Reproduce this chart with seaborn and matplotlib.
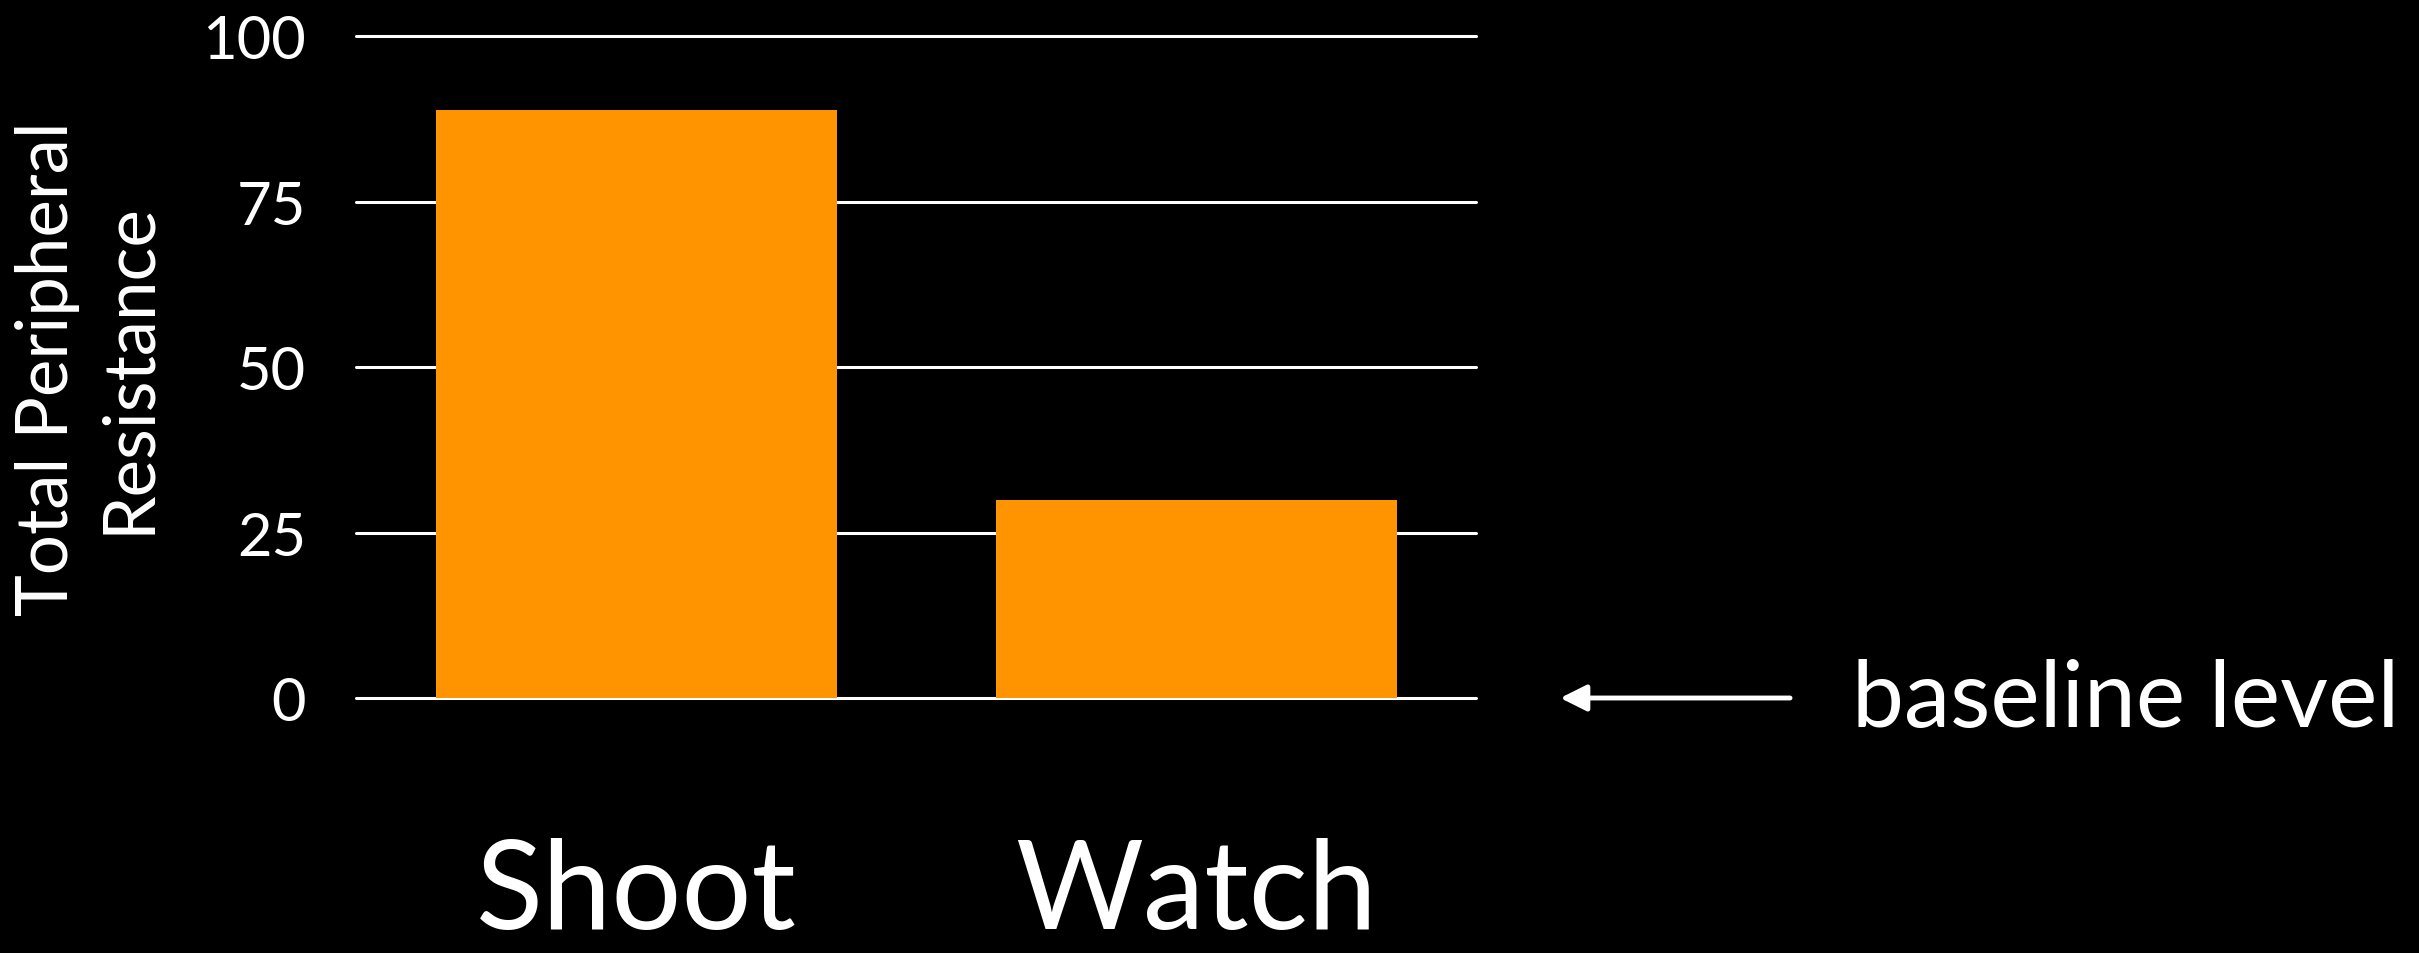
import matplotlib
matplotlib.use("Agg")
import matplotlib.pyplot as plt
import seaborn as sns

# ==========================
# Data
# ==========================
conditions = ["Shoot", "Watch"]
resistance = [88.9, 30.0]
y_ticks = [0, 25, 50, 75, 100]

bar_color = "#FF9400"

# ==========================
# Style
# ==========================
sns.set_theme(style="dark")
plt.rcParams.update({
    "figure.facecolor": "black",
    "axes.facecolor": "black",
    "savefig.facecolor": "black",
    "text.color": "white",
    "axes.labelcolor": "white",
    "xtick.color": "white",
    "ytick.color": "white",
})
plt.rcParams["font.family"] = ["Lato", "DejaVu Sans"]

fig = plt.figure(figsize=(24.19, 9.54), dpi=100)
ax = fig.add_axes([0.1472, 0.2673, 0.4630, 0.6934])

sns.barplot(x=conditions, y=resistance, color=bar_color, saturation=1,
            width=0.716, linewidth=0, edgecolor=bar_color, ax=ax)

ax.set_xlim(-0.5, 1.5)
ax.set_ylim(0, 100)
ax.set_yticks(y_ticks)
ax.set_yticklabels([str(t) for t in y_ticks], fontsize=43, fontweight="normal")
ax.tick_params(axis="y", length=0, pad=36)
ax.tick_params(axis="x", length=0, pad=100, labelsize=89)

ax.yaxis.grid(True, color="white", linewidth=2.2)
ax.xaxis.grid(False)
ax.set_axisbelow(True)
for line in ax.get_ygridlines():
    line.set_clip_on(False)
for s in ax.spines.values():
    s.set_visible(False)

ax.set_xlabel("")
ax.set_ylabel("Total Peripheral\nResistance", fontsize=51, labelpad=30,
              linespacing=1.3)

# baseline annotation
ax.annotate("", xy=(0.645, 0), xycoords=("figure fraction", "data"),
            xytext=(0.740, 0), textcoords=("figure fraction", "data"),
            arrowprops=dict(arrowstyle="-|>", color="white", lw=3.5,
                            mutation_scale=40, shrinkA=0, shrinkB=0),
            annotation_clip=False)
ax.text(0.7656, -4.2, "baseline level", fontsize=67,
        transform=matplotlib.transforms.blended_transform_factory(fig.transFigure, ax.transData),
        ha="left", va="baseline", color="white")

fig.savefig("out.png", dpi=100)
